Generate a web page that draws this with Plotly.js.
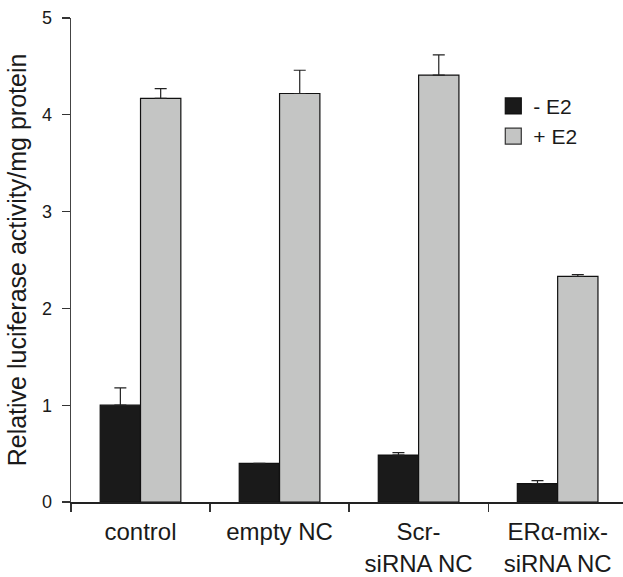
<!DOCTYPE html>
<html><head><meta charset="utf-8">
<script src="https://cdn.plot.ly/plotly-3.0.1.min.js"></script>
<style>html,body{margin:0;padding:0;background:#fff}</style>
</head><body><div id="chart" style="width:623px;height:577px"></div>
<script>
var categories = ["control", "empty NC", "Scr-siRNA NC", "ERα-mix-siRNA NC"];
var tickLabels = ["control", "empty NC", "Scr-<br>siRNA NC", "ERα-mix-<br>siRNA NC"];
var minusE2 = [1.0, 0.40, 0.485, 0.19];
var minusE2Err = [0.18, 0.0, 0.025, 0.03];
var plusE2 = [4.17, 4.22, 4.41, 2.33];
var plusE2Err = [0.10, 0.24, 0.21, 0.02];
var seriesNames = ["- E2", "+ E2"];
var yTicks = [0, 1, 2, 3, 4, 5];

var font = "Liberation Sans, Arial, sans-serif";
var dark = "#1a1a1a", grey = "#c4c5c4";

function bar(y, err, color) {
  return {type: "bar", x: categories, y: y, showlegend: false,
    marker: {color: color, line: {color: "#111", width: 1.2}},
    error_y: {type: "data", array: err, arrayminus: err.map(function(){return 0;}), symmetric: false,
      color: "#222", thickness: 1.2, width: 6}};
}
function legendItem(name, color, lineColor) {
  return {type: "scatter", mode: "markers", x: categories, y: categories.map(function(){return null;}),
    name: name, marker: {symbol: "square", size: 16, color: color, line: {color: lineColor, width: 1.2}}};
}
var traces = [
  bar(minusE2, minusE2Err, dark),
  bar(plusE2, plusE2Err, grey),
  legendItem(seriesNames[0], dark, "#111"),
  legendItem(seriesNames[1], grey, "#333")
];

var layout = {
  width: 623, height: 577,
  margin: {l: 71, r: 0, t: 18, b: 75},
  paper_bgcolor: "#fff", plot_bgcolor: "#fff",
  font: {family: font, size: 20, color: "#1a1a1a"},
  barmode: "group", bargap: 0.42, bargroupgap: 0,
  showlegend: true,
  legend: {x: 0.765, y: 0.86, xanchor: "left", yanchor: "top", bgcolor: "rgba(0,0,0,0)",
    font: {family: font, size: 21}, tracegroupgap: 0, itemwidth: 30},
  xaxis: {type: "category", range: [-0.5, 3.47], tickmode: "array", tickvals: categories, ticktext: tickLabels,
    tickson: "boundaries", ticks: "outside", ticklen: 8, tickwidth: 1.2, tickcolor: "#333",
    showline: true, linecolor: "#222", linewidth: 1.5, showgrid: false, zeroline: false,
    ticklabelstandoff: 8, tickfont: {family: font, size: 24}},
  yaxis: {range: [0, 5], tickmode: "array", tickvals: yTicks, ticks: "outside", ticklen: 8, tickwidth: 1.2,
    tickcolor: "#333", showline: true, linecolor: "#444", linewidth: 1.5, showgrid: false, zeroline: false,
    ticklabelstandoff: 6, tickfont: {family: font, size: 18},
    title: {text: "Relative luciferase activity/mg protein", font: {family: font, size: 25}, standoff: 8}}
};
Plotly.newPlot("chart", traces, layout, {displayModeBar: false, staticPlot: true});
</script></body></html>
